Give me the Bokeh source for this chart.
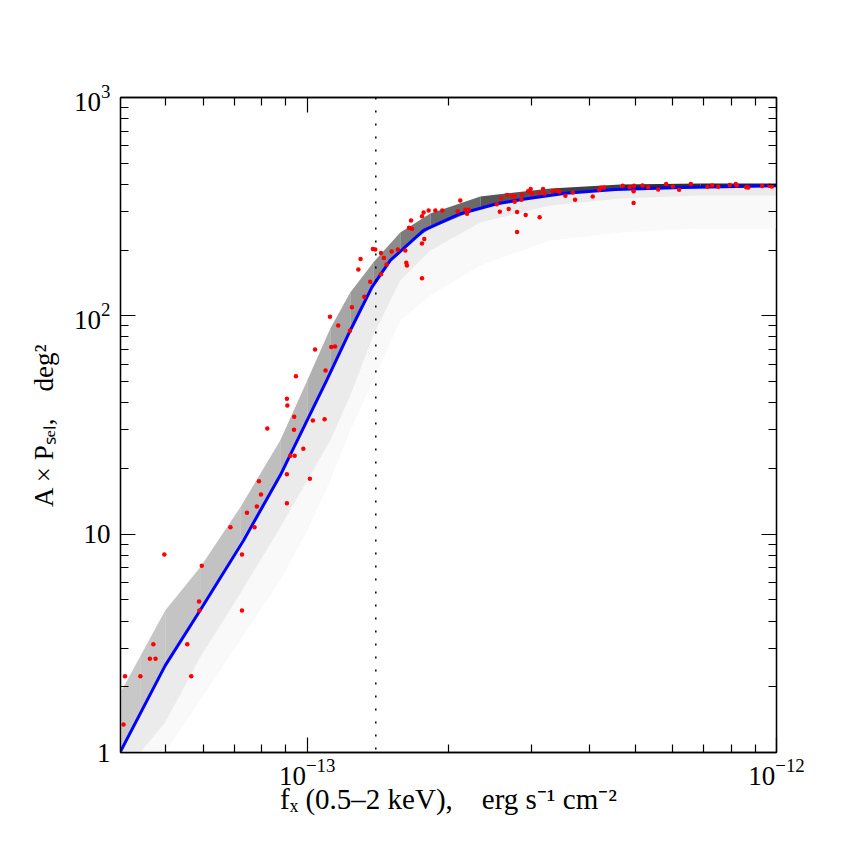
from bokeh.plotting import figure
from bokeh.models import LogAxis, FixedTicker, LogTickFormatter, Span, CustomJSTickFormatter
from bokeh.embed import file_html
from bokeh.resources import INLINE

FX_UNIT = 1e-13  # flux values below are in units of 1e-13 erg s^-1 cm^-2

# ---- model curve (blue) ----
curve_fx = [0.399, 0.498, 0.591, 0.7315, 0.876, 1.10, 1.235, 1.374, 1.503,
            1.77, 2.119, 2.538, 2.86, 3.55, 4.54, 6.30, 10.0]
curve_area = [1.0, 2.50, 4.47, 9.36, 18.6, 50.6, 85.7, 135.3, 179.4,
              246.0, 293.6, 326.0, 341.0, 364.0, 379.0, 387.0, 394.0]

# ---- measured points (red) ----
pts_fx = [0.406, 0.409, 0.441, 0.462, 0.475, 0.470, 0.496, 0.555, 0.566, 0.588,
          0.589, 0.596, 0.726, 0.726, 0.686, 0.772, 0.744, 0.781, 0.797, 0.789,
          0.905, 0.905, 1.013, 0.920, 0.940, 0.981, 0.822, 0.937, 0.938, 1.028,
          1.089, 0.905, 0.907, 0.946, 1.094, 1.039, 1.125, 1.146, 1.118, 1.164,
          1.233, 1.245, 1.323, 1.362, 1.436, 1.285, 1.299, 1.380, 1.396, 1.436,
          1.457, 1.476, 1.513, 1.560, 1.618, 1.626, 1.631, 1.756, 1.648, 1.672,
          1.664, 1.756, 1.770, 1.814, 1.875, 1.940, 1.776, 1.756, 2.092, 2.119,
          2.172, 2.208, 2.191, 2.535, 2.573, 2.592, 2.666, 2.687, 2.732, 2.767,
          2.767, 2.800, 2.800, 2.860, 2.870, 2.921, 2.956, 2.993, 3.014, 3.119,
          3.128, 3.181, 3.201, 3.325, 3.401, 3.446, 3.549, 3.679, 3.722, 4.058,
          4.188, 4.221, 4.291, 4.702, 4.866, 4.968, 4.960, 4.960, 5.180, 5.326,
          5.595, 5.819, 6.011, 6.202, 6.567, 7.127, 7.293, 7.511, 7.951, 8.189,
          8.229, 8.619, 8.704, 9.322, 9.663, 9.772]
pts_area = [1.344, 2.236, 2.236, 2.687, 2.687, 3.134, 8.07, 3.134, 2.236, 4.918,
            4.472, 7.165, 8.07, 4.472, 10.77, 10.77, 12.53, 13.39, 15.20, 17.49,
            13.87, 18.83, 17.94, 22.87, 22.87, 24.61, 30.49, 30.08, 34.49, 33.18,
            33.64, 41.72, 38.87, 52.93, 56.22, 70.18, 71.90, 72.42, 99.06, 90.36,
            85.44, 109.6, 122.3, 143.3, 155.2, 163.2, 181.9, 202.1, 201.5, 193.8,
            183.8, 172.0, 197.2, 201.5, 199.4, 175.1, 170.2, 148.8, 253.3, 250.6,
            273.5, 286.2, 297.6, 303.9, 303.9, 303.9, 224.6, 214.6, 301.7, 337.8,
            306.2, 306.2, 293.6, 324.5, 300.1, 345.0, 357.2, 308.2, 354.9, 352.4,
            333.2, 298.6, 241.8, 340.3, 359.8, 289.3, 372.5, 380.5, 363.6, 364.8,
            283.2, 380.5, 363.6, 372.5, 375.3, 370.2, 354.9, 367.5, 340.3, 352.4,
            378.1, 386.2, 387.4, 394.5, 388.6, 394.5, 372.5, 328.3, 395.8, 388.6,
            379.3, 401.3, 391.6, 378.1, 401.3, 390.3, 395.8, 390.3, 397.0, 401.3,
            395.8, 388.6, 387.4, 392.9, 394.5, 391.6]

# ---- simulated-distribution envelope (grey histogram) ----
hist_fx = [0.399, 0.4405, 0.498, 0.591, 0.7197, 0.8758, 1.0, 1.1197, 1.2352,
           1.3826, 1.5785, 1.8291, 2.3382, 3.2976, 4.6494, 6.8865, 10.0]
ridge_top = [1.863, 2.753, 4.472, 7.04, 13.25, 26.87, 50.6, 87.6, 128.0,
             175.6, 241.0, 294.5, 352.4, 383.4, 399.8, 404.1, 404.1]
ridge_low = [1.01, 1.509, 2.50, 4.47, 9.16, 18.6, 33.2, 54.5, 85.7,
             139.3, 201.5, 251.4, 312.1, 356.0, 379.3, 387.4, 393.7]
light_low = [1.0, 1.0, 1.372, 2.724, 5.35, 10.73, 17.62, 26.87, 43.2,
             81.3, 145.3, 199.4, 267.9, 320.4, 345.0, 356.0, 356.0]
faint_low = [1.0, 1.0, 1.0, 1.73, 3.26, 6.14, 10.4, 17.62, 29.85,
             50.6, 95.3, 124.0, 170.2, 221.5, 241.0, 251.4, 251.4]
ridge_colors = ["#c8c8c8", "#c6c6c6", "#c4c4c4", "#c2c2c2", "#bebebe", "#b8b8b8",
                "#b0b0b0", "#a6a6a6", "#9a9a9a", "#8c8c8c", "#7c7c7c", "#6a6a6a",
                "#555555", "#404040", "#303030", "#282828"]

# ---- ticks ----
x_major = [1e-13, 1e-12]
x_minor = [5e-14, 6e-14, 7e-14, 8e-14, 9e-14, 2e-13, 3e-13, 4e-13, 5e-13,
           6e-13, 7e-13, 8e-13, 9e-13]
y_major = [1, 10, 100, 1000]
y_minor = [2, 3, 4, 5, 6, 7, 8, 9, 20, 30, 40, 50, 60, 70, 80, 90,
           200, 300, 400, 500, 600, 700, 800, 900]
cut_flux = 1.4e-13

FONT = "Liberation Serif"

p = figure(width=840, height=840, x_axis_type="log", y_axis_type="log",
           x_range=(4e-14, 1e-12), y_range=(1, 1000),
           output_backend="svg", toolbar_location=None,
           min_border_left=120, min_border_right=64,
           min_border_top=97, min_border_bottom=88)
p.xgrid.visible = False
p.ygrid.visible = False
p.outline_line_color = "black"
p.outline_line_width = 1.3
p.background_fill_color = "white"
p.border_fill_color = "white"

hx = [v * FX_UNIT for v in hist_fx]
p.varea(x=hx, y1=faint_low, y2=ridge_low, fill_color="#f9f9f9")
p.varea(x=hx, y1=light_low, y2=ridge_low, fill_color="#ebebeb")
for i, col in enumerate(ridge_colors):
    p.varea(x=hx[i:i + 2], y1=ridge_low[i:i + 2], y2=ridge_top[i:i + 2],
            fill_color=col)

p.add_layout(Span(location=cut_flux, dimension="height", line_color="black",
                  line_width=1.5, line_dash="2 11"))

p.line([v * FX_UNIT for v in curve_fx], curve_area, line_color="#0000ff", line_width=3)
p.scatter([v * FX_UNIT for v in pts_fx], pts_area, size=4.5, color="#ff0000",
          line_color=None)

def style(ax, label_px="27px"):
    ax.major_tick_in = 15
    ax.major_tick_out = 0
    ax.minor_tick_in = 8
    ax.minor_tick_out = 0
    ax.major_tick_line_color = "black"
    ax.minor_tick_line_color = "black"
    ax.major_tick_line_width = 1.2
    ax.minor_tick_line_width = 1.2
    ax.axis_line_color = "black"
    ax.axis_line_width = 1.3
    ax.major_label_text_font = FONT
    ax.major_label_text_font_size = "27px"
    ax.major_label_text_color = "black"
    ax.axis_label_text_font = FONT
    ax.axis_label_text_font_size = label_px
    ax.axis_label_text_font_style = "normal"
    ax.axis_label_text_color = "black"

xa = p.xaxis[0]
xa.ticker = FixedTicker(ticks=x_major, minor_ticks=x_minor)
xa.formatter = LogTickFormatter()
style(xa, "29px")
xa.major_label_standoff = 6
xa.axis_label = "f\u2093 (0.5\u20132 keV),\u2003erg s\u207b\u00b9 cm\u207b\u00b2"
xa.axis_label_standoff = -5

ya = p.yaxis[0]
ya.ticker = FixedTicker(ticks=y_major, minor_ticks=y_minor)
ya.formatter = LogTickFormatter(min_exponent=2)
style(ya)
ya.major_label_standoff = 10
ya.major_label_orientation = "horizontal"
ya.axis_label = "A \u00d7 P\u209b\u2091\u2097,\u2003deg\u00b2"
ya.axis_label_standoff = 12

blank = CustomJSTickFormatter(code="return ''")
top = LogAxis(ticker=FixedTicker(ticks=x_major, minor_ticks=x_minor), formatter=blank)
style(top)
top.major_label_standoff = 0
p.add_layout(top, "above")
right = LogAxis(ticker=FixedTicker(ticks=y_major, minor_ticks=y_minor), formatter=blank)
style(right)
right.major_label_standoff = 0
p.add_layout(right, "right")

open("out.html", "w").write(file_html(p, INLINE))
